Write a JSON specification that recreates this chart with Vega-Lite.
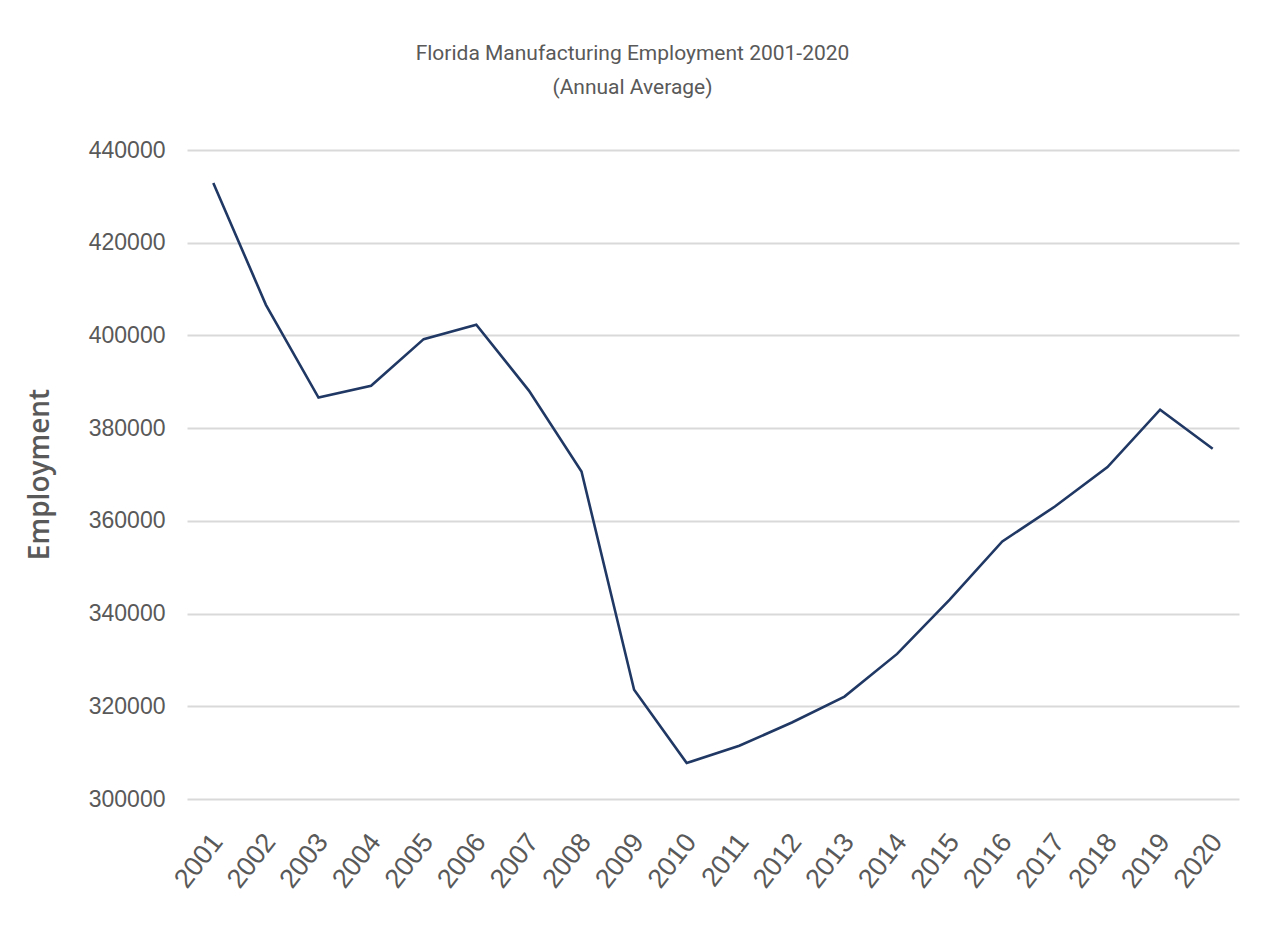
{
  "$schema": "https://vega.github.io/schema/vega-lite/v6.json",
  "autosize": {"type": "none"},
  "width": 1052,
  "height": 649,
  "padding": {"left": 187, "top": 150, "right": 26, "bottom": 146},
  "background": "white",
  "title": {
    "text": ["Florida Manufacturing Employment 2001-2020", "(Annual Average)"],
    "font": "Roboto",
    "fontSize": 21,
    "fontWeight": "normal",
    "color": "#595959",
    "lineHeight": 34,
    "anchor": "middle",
    "frame": "bounds",
    "offset": 41
  },
  "data": {
    "values": [
      {"Year": "2001", "Employment": 432900},
      {"Year": "2002", "Employment": 406600},
      {"Year": "2003", "Employment": 386600},
      {"Year": "2004", "Employment": 389150},
      {"Year": "2005", "Employment": 399200},
      {"Year": "2006", "Employment": 402300},
      {"Year": "2007", "Employment": 388100},
      {"Year": "2008", "Employment": 370650},
      {"Year": "2009", "Employment": 323560},
      {"Year": "2010", "Employment": 307750},
      {"Year": "2011", "Employment": 311480},
      {"Year": "2012", "Employment": 316500},
      {"Year": "2013", "Employment": 322100},
      {"Year": "2014", "Employment": 331300},
      {"Year": "2015", "Employment": 343000},
      {"Year": "2016", "Employment": 355550},
      {"Year": "2017", "Employment": 363100},
      {"Year": "2018", "Employment": 371600},
      {"Year": "2019", "Employment": 383970},
      {"Year": "2020", "Employment": 375550}
    ]
  },
  "mark": {"type": "line", "color": "#203864", "strokeWidth": 2.6},
  "encoding": {
    "x": {
      "field": "Year",
      "type": "ordinal",
      "scale": {"type": "point", "padding": 0.5},
      "axis": {
        "title": null,
        "domain": false,
        "ticks": false,
        "grid": false,
        "labelAngle": -52,
        "labelAlign": "right",
        "labelBaseline": "middle",
        "labelFont": "Liberation Sans",
        "labelFontSize": 27,
        "labelColor": "#595959",
        "labelPadding": 38,
        "labelOffset": 4
      }
    },
    "y": {
      "field": "Employment",
      "type": "quantitative",
      "scale": {"domain": [300000, 440000], "nice": false, "zero": false},
      "axis": {
        "values": [300000, 320000, 340000, 360000, 380000, 400000, 420000, 440000],
        "format": "d",
        "domain": false,
        "ticks": false,
        "grid": true,
        "gridColor": "#d9d9d9",
        "gridWidth": 2,
        "labelFont": "Liberation Sans",
        "labelFontSize": 23,
        "labelColor": "#595959",
        "labelPadding": 22,
        "title": "Employment",
        "titleFont": "Open Sans",
        "titleFontSize": 28,
        "titleFontWeight": 600,
        "titleColor": "#595959",
        "titleAngle": -90,
        "titleAlign": "center",
        "titleBaseline": "middle",
        "titleX": -147,
        "titleY": 324
      }
    }
  },
  "config": {"view": {"stroke": null}}
}
